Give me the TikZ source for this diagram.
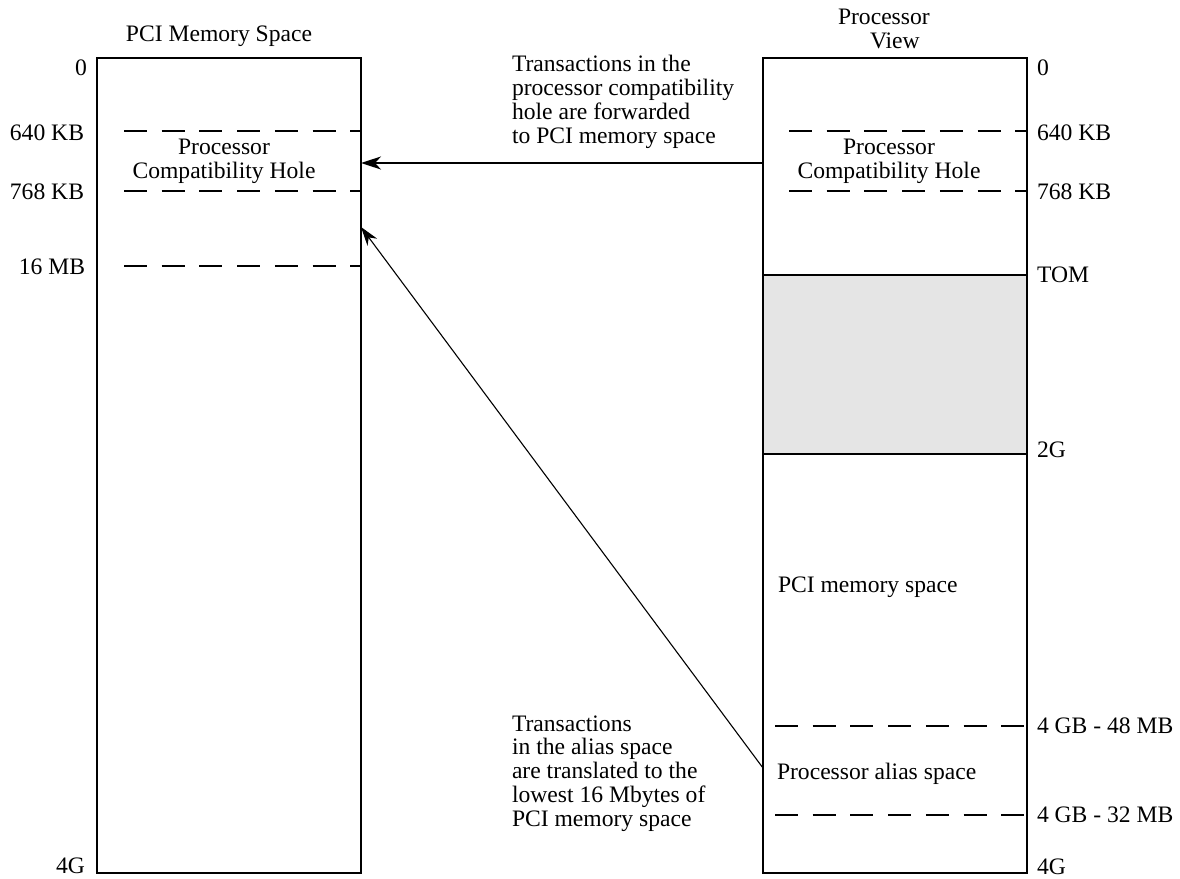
\documentclass[tikz,border=0pt]{standalone}
\usepackage{fontspec}
\setmainfont{Liberation Serif}
\usetikzlibrary{arrows.meta}
\definecolor{holdgray}{HTML}{E5E5E5}
\tikzset{
  txt/.style={inner sep=0pt, outer sep=0pt, font=\fontsize{23.6bp}{23.7bp}\selectfont},
  membox/.style={draw, line width=2.4bp, minimum width=264bp, minimum height=815bp, inner sep=0pt, outer sep=0pt},
  bound/.style={line width=2.4bp},
  dashbound/.style={line width=2.4bp, dash pattern=on 23bp off 14.7bp},
  fwd/.style={line width=2bp, -{Stealth[length=20bp,width=13bp,inset=6bp]}},
  alias/.style={line width=1.1bp, -{Stealth[length=19bp,width=12bp,inset=6bp]}}
}
\begin{document}
\begin{tikzpicture}[x=1bp,y=-1bp]
\useasboundingbox (0,0) rectangle (1180,879);

% shaded region between TOM and 2G
\fill[holdgray] (763,275) rectangle (1027,454);

% the two address spaces
\node[membox] (pci) at (229,465.5) {};
\node[membox] (proc) at (895,465.5) {};

% titles (base anchor of a multi-line node sits on its last line)
\node[txt, anchor=base] (pcititle) at (219,41) {PCI Memory Space};
\node[txt, anchor=base west, align=left] (proctitle) at (838,48) {Processor\\\hspace*{32bp}View};

% boundaries in PCI memory space
\draw[dashbound] (124,131) -- (pci.east |- 0,131);
\draw[dashbound] (124,191) -- (pci.east |- 0,191);
\draw[dashbound] (124,266) -- (pci.east |- 0,266);

% boundaries in the processor view
\draw[dashbound] (789,131) -- (proc.east |- 0,131);
\draw[dashbound] (789,191) -- (proc.east |- 0,191);
\draw[bound] (proc.west |- 0,275) -- (proc.east |- 0,275);
\draw[bound] (proc.west |- 0,454) -- (proc.east |- 0,454);
\draw[dashbound] (775,726) -- (proc.east |- 0,726);
\draw[dashbound] (775,815) -- (proc.east |- 0,815);

% address labels, PCI side
\node[txt, anchor=base east] (a0) at (87,75) {0};
\node[txt, anchor=base east] (a640) at (84,140) {640 KB};
\node[txt, anchor=base east] (a768) at (84,199) {768 KB};
\node[txt, anchor=base east] (a16) at (85,274) {16 MB};
\node[txt, anchor=base east] (a4g) at (85,873) {4G};

% address labels, processor side
\node[txt, anchor=base west] (b0) at (1037,75) {0};
\node[txt, anchor=base west] (b640) at (1037,140) {640 KB};
\node[txt, anchor=base west] (b768) at (1037,199) {768 KB};
\node[txt, anchor=base west] (btom) at (1037,282) {TOM};
\node[txt, anchor=base west] (b2g) at (1037,457) {2G};
\node[txt, anchor=base west] (b48) at (1037,733) {4 GB - 48 MB};
\node[txt, anchor=base west] (b32) at (1037,822) {4 GB - 32 MB};
\node[txt, anchor=base west] (b4g) at (1037,874) {4G};

% region names
\node[txt, anchor=base, align=center] (holeL) at (224,178) {Processor\\Compatibility Hole};
\node[txt, anchor=base, align=center] (holeR) at (889,178) {Processor\\Compatibility Hole};
\node[txt, anchor=base west] (pcimem) at (778,592) {PCI memory space};
\node[txt, anchor=base west] (aliasname) at (777,779) {Processor alias space};

% explanations
\node[txt, anchor=base west, align=left] (fwdnote) at (512,143)
  {Transactions in the\\processor compatibility\\hole are forwarded\\to PCI memory space};
\node[txt, anchor=base west, align=left] (aliasnote) at (512,826)
  {Transactions\\in the alias space\\are translated to the\\lowest 16 Mbytes of\\PCI memory space};

% connectors
\coordinate (fwdsrc) at (proc.west |- 0,163);
\coordinate (fwddst) at (pci.east |- 0,163);
\coordinate (aliassrc) at (proc.west |- 0,768);
\coordinate (aliasdst) at (pci.east |- 0,227);
\draw[fwd] (fwdsrc) -- (fwddst);
\draw[alias] (aliassrc) -- (aliasdst);
\end{tikzpicture}
\end{document}
